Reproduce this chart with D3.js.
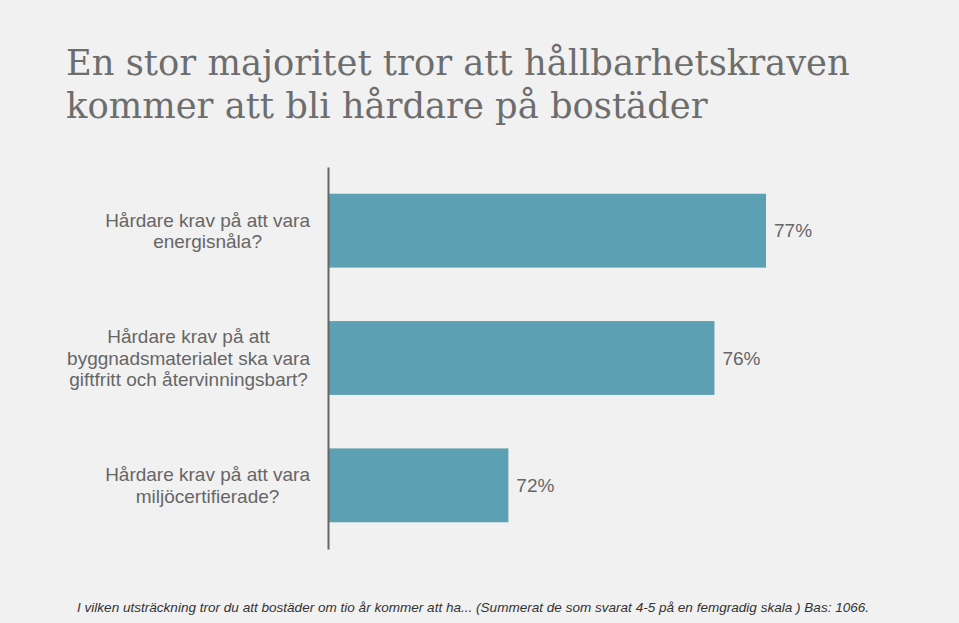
<!DOCTYPE html>
<html><head><meta charset="utf-8">
<script src="https://cdn.jsdelivr.net/npm/d3@7"></script>
<style>html,body{margin:0;padding:0;background:#f1f1f1;}</style>
</head><body>
<svg id="chart" width="959" height="623"></svg>
<script>
const titleLines = ["En stor majoritet tror att hållbarhetskraven", "kommer att bli hårdare på bostäder"];
const categories = [
  ["Hårdare krav på att vara", "energisnåla?"],
  ["Hårdare krav på att", "byggnadsmaterialet ska vara", "giftfritt och återvinningsbart?"],
  ["Hårdare krav på att vara", "miljöcertifierade?"]
];
const values = [77, 76, 72];
const valueLabels = ["77%", "76%", "72%"];
const footnote = "I vilken utsträckning tror du att bostäder om tio år kommer att ha... (Summerat de som svarat 4-5 på en femgradig skala ) Bas: 1066.";

const svg = d3.select("#chart");
svg.append("rect").attr("width", 959).attr("height", 623).attr("fill", "#f1f1f1");

// Title
const title = svg.append("g");
titleLines.forEach((t, i) => {
  title.append("text").attr("x", 66).attr("y", 75 + i * 43)
    .attr("font-family", "'DejaVu Serif', 'Liberation Serif', serif")
    .attr("font-size", 36).attr("fill", "#6d6d6d").text(t);
});
{
  const t0 = title.select("text").node();
  const w = t0.getComputedTextLength();
  const fs = 36 * 784 / w;
  title.selectAll("text").attr("font-size", fs);
}

const x = d3.scaleLinear().domain([68.5, 77]).range([328, 766]);
const y = d3.scaleBand().domain(d3.range(values.length)).range([167, 549]).paddingInner(0.42).paddingOuter(0.21);

// bars
svg.append("g").selectAll("rect").data(values).join("rect")
  .attr("x", x(68.5)).attr("y", (d, i) => y(i))
  .attr("width", d => x(d) - x(68.5)).attr("height", y.bandwidth())
  .attr("fill", "#5da0b3");

// axis line
const axis = d3.axisLeft(y).tickSize(0).tickFormat("");
const ag = svg.append("g").attr("transform", `translate(${x(68.5)},0)`).call(axis);
ag.select(".domain").attr("stroke", "#666").attr("stroke-width", 2);

// value labels
svg.append("g").selectAll("text").data(values).join("text")
  .attr("x", d => x(d) + 8).attr("y", (d, i) => y(i) + y.bandwidth() / 2)
  .attr("dy", "0.35em")
  .attr("font-family", "'Liberation Sans', Arial, sans-serif").attr("font-size", 19)
  .attr("fill", "#666").text((d, i) => valueLabels[i]);

// category labels
const lineH = 21.5;
categories.forEach((lines, i) => {
  const g = svg.append("g");
  const cy = y(i) + y.bandwidth() / 2;
  const texts = lines.map((l, j) => g.append("text")
    .attr("y", cy + (j - (lines.length - 1) / 2) * lineH)
    .attr("dy", "0.35em")
    .attr("text-anchor", "middle")
    .attr("font-family", "'Liberation Sans', Arial, sans-serif").attr("font-size", 19)
    .attr("fill", "#666").text(l));
  const maxW = d3.max(texts, t => t.node().getComputedTextLength());
  texts.forEach(t => t.attr("x", 310 - maxW / 2));
});

// footnote
const fn = svg.append("text").attr("x", 77).attr("y", 612)
  .attr("font-family", "'Liberation Sans', Arial, sans-serif").attr("font-style", "italic")
  .attr("font-size", 15).attr("fill", "#333").text(footnote);
{
  const w = fn.node().getComputedTextLength();
  fn.attr("font-size", 15 * 793 / w);
}
</script>
</body></html>
